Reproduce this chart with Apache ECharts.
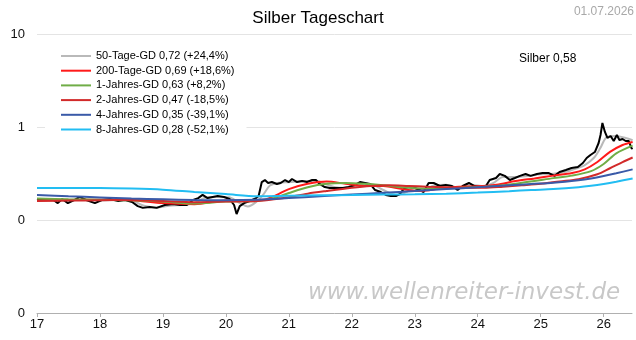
<!DOCTYPE html>
<html>
<head>
<meta charset="utf-8">
<script src="https://cdn.jsdelivr.net/npm/echarts@6/dist/echarts.min.js"></script>
<style>
  html, body { margin: 0; padding: 0; background: #fff; }
  #chart { width: 636px; height: 340px; }
</style>
</head>
<body>
<div id="chart"></div>
<script>
// Silver daily chart: price (log scale) with six moving averages.
// Time is given in decimal years (17 = 2017).

const yearTicks = [17, 18, 19, 20, 21, 22, 23, 24, 25, 26];
const yTickValues = [0.01, 0.1, 1, 10];
const yTickLabels = ['0', '0', '1', '10'];

const priceName = 'Silber';
const priceLast = '0,58';

const priceT = [17.00,17.13,17.24,17.33,17.40,17.49,17.59,17.68,17.78,17.92,18.03,18.16,18.29,18.40,18.51,18.60,18.68,18.79,18.90,19.03,19.16,19.27,19.38,19.48,19.56,19.63,19.71,19.79,19.87,19.97,20.06,20.13,20.17,20.22,20.29,20.38,20.48,20.52,20.57,20.62,20.67,20.73,20.81,20.87,20.94,21.00,21.05,21.13,21.21,21.29,21.37,21.43,21.49,21.57,21.65,21.75,21.86,21.95,22.05,22.13,22.21,22.29,22.37,22.46,22.54,22.62,22.70,22.76,22.84,22.92,23.00,23.08,23.14,23.22,23.30,23.40,23.49,23.59,23.68,23.76,23.86,23.95,24.05,24.13,24.19,24.29,24.35,24.43,24.51,24.59,24.67,24.76,24.84,24.94,25.03,25.13,25.22,25.30,25.40,25.49,25.59,25.67,25.73,25.79,25.86,25.92,25.95,25.98,26.02,26.06,26.11,26.16,26.21,26.25,26.30,26.35,26.40,26.44,26.46];
const priceV = [0.168,0.164,0.168,0.152,0.168,0.152,0.164,0.177,0.164,0.152,0.164,0.168,0.160,0.164,0.156,0.141,0.135,0.138,0.135,0.145,0.149,0.145,0.145,0.164,0.172,0.186,0.172,0.177,0.181,0.177,0.168,0.145,0.116,0.141,0.152,0.160,0.172,0.181,0.256,0.269,0.250,0.256,0.244,0.250,0.269,0.256,0.276,0.256,0.263,0.256,0.269,0.269,0.244,0.226,0.221,0.221,0.221,0.226,0.238,0.256,0.250,0.244,0.210,0.200,0.186,0.181,0.181,0.190,0.221,0.226,0.221,0.210,0.200,0.250,0.250,0.232,0.238,0.232,0.210,0.232,0.250,0.232,0.226,0.232,0.269,0.283,0.312,0.298,0.269,0.283,0.298,0.312,0.298,0.312,0.320,0.320,0.298,0.328,0.345,0.362,0.371,0.410,0.464,0.500,0.538,0.673,0.820,1.104,0.884,0.762,0.800,0.707,0.820,0.725,0.743,0.707,0.707,0.595,0.580];

const ma50T = [17.0,17.25,17.5,17.75,18.0,18.25,18.5,18.7,18.9,19.1,19.35,19.5,19.65,19.85,20.05,20.2,20.35,20.5,20.6,20.7,20.85,21.0,21.25,21.45,21.6,21.8,22.0,22.2,22.35,22.5,22.7,22.85,23.0,23.15,23.3,23.5,23.7,23.9,24.1,24.25,24.4,24.6,24.8,25.0,25.2,25.4,25.55,25.7,25.85,25.95,26.05,26.2,26.35,26.46];
const ma50V = [0.168,0.163,0.162,0.166,0.162,0.165,0.162,0.142,0.136,0.142,0.146,0.152,0.172,0.177,0.176,0.155,0.140,0.160,0.190,0.235,0.252,0.255,0.262,0.262,0.240,0.222,0.226,0.245,0.238,0.210,0.186,0.198,0.220,0.212,0.235,0.240,0.222,0.238,0.232,0.250,0.290,0.290,0.298,0.310,0.315,0.330,0.355,0.390,0.470,0.600,0.780,0.800,0.760,0.720];

const ma200T = [17.0,17.5,18.0,18.5,19.0,19.5,20.0,20.3,20.6,20.8,21.0,21.3,21.6,21.9,22.2,22.5,22.8,23.1,23.4,23.7,24.0,24.3,24.6,24.9,25.2,25.5,25.7,25.9,26.1,26.3,26.46];
const ma200V = [0.162,0.164,0.165,0.163,0.152,0.148,0.162,0.162,0.165,0.185,0.215,0.245,0.260,0.245,0.232,0.232,0.215,0.205,0.218,0.228,0.230,0.240,0.262,0.280,0.300,0.320,0.350,0.420,0.540,0.640,0.690];

const ma1yT = [17.0,17.5,18.0,18.5,19.0,19.5,20.0,20.5,20.8,21.0,21.3,21.6,21.9,22.2,22.5,22.8,23.1,23.4,23.7,24.0,24.3,24.6,24.9,25.2,25.5,25.8,26.0,26.2,26.46];
const ma1yV = [0.170,0.167,0.165,0.163,0.158,0.150,0.158,0.160,0.175,0.195,0.225,0.245,0.250,0.245,0.236,0.225,0.218,0.216,0.222,0.226,0.232,0.245,0.262,0.282,0.300,0.335,0.400,0.520,0.630];

const ma2yT = [17.0,17.5,18.0,18.5,19.0,19.5,20.0,20.5,20.8,21.0,21.3,21.6,22.0,22.3,22.6,22.9,23.2,23.5,23.8,24.1,24.4,24.7,25.0,25.3,25.6,25.9,26.1,26.3,26.46];
const ma2yV = [0.160,0.162,0.163,0.164,0.160,0.155,0.158,0.160,0.168,0.176,0.192,0.205,0.222,0.232,0.236,0.232,0.228,0.225,0.222,0.222,0.228,0.236,0.245,0.260,0.275,0.310,0.360,0.420,0.470];

const ma4yT = [17.0,17.5,18.0,18.5,19.0,19.5,20.0,20.5,21.0,21.5,22.0,22.5,23.0,23.5,24.0,24.5,24.85,25.2,25.6,25.8,26.0,26.2,26.46];
const ma4yV = [0.186,0.180,0.175,0.170,0.167,0.164,0.163,0.165,0.172,0.180,0.188,0.196,0.205,0.215,0.225,0.236,0.244,0.252,0.268,0.280,0.297,0.318,0.350];

const ma8yT = [17.0,17.5,18.0,18.5,19.0,19.5,20.0,20.5,21.0,21.5,22.0,22.5,23.0,23.5,24.0,24.5,24.85,25.2,25.6,25.8,26.0,26.2,26.46];
const ma8yV = [0.221,0.221,0.221,0.218,0.212,0.200,0.190,0.180,0.182,0.184,0.186,0.188,0.189,0.192,0.197,0.204,0.210,0.215,0.225,0.233,0.244,0.258,0.280];

const maNames = [
  '50-Tage-GD 0,72 (+24,4%)',
  '200-Tage-GD 0,69 (+18,6%)',
  '1-Jahres-GD 0,63 (+8,2%)',
  '2-Jahres-GD 0,47 (-18,5%)',
  '4-Jahres-GD 0,35 (-39,1%)',
  '8-Jahres-GD 0,28 (-52,1%)'
];
const maColors = ['#b9b9b9', '#ff1a1a', '#70ad47', '#d22a2a', '#3a5aa8', '#22bdf2'];

const zip = (t, v) => t.map((x, i) => [x, v[i]]);
const maData = [
  zip(ma50T, ma50V), zip(ma200T, ma200V), zip(ma1yT, ma1yV),
  zip(ma2yT, ma2yV), zip(ma4yT, ma4yV), zip(ma8yT, ma8yV)
];

const font = '"Liberation Sans", Arial, sans-serif';

const maSeries = maNames.map((name, i) => ({
  name,
  type: 'line',
  data: maData[i],
  showSymbol: false,
  smooth: 0.3,
  lineStyle: { color: maColors[i], width: 2 },
  itemStyle: { color: maColors[i] },
  z: i === 0 ? 2 : 4,
  silent: true,
  animation: false
}));

const priceSeries = {
  name: priceName,
  type: 'line',
  data: zip(priceT, priceV),
  showSymbol: false,
  lineStyle: { color: '#000', width: 2 },
  itemStyle: { color: '#000' },
  z: 3,
  silent: true,
  animation: false
};

const chart = echarts.init(document.getElementById('chart'), null, { renderer: 'canvas' });
chart.setOption({
  animation: false,
  backgroundColor: '#fff',
  textStyle: { fontFamily: font },
  title: {
    text: 'Silber Tageschart',
    left: 'center',
    top: 5,
    textStyle: { fontFamily: font, fontSize: 17, fontWeight: 'normal', color: '#000' }
  },
  grid: { left: 37, right: 4, top: 34, bottom: 27, containLabel: false },
  legend: {
    data: maNames,
    orient: 'vertical',
    left: 45,
    top: 45,
    padding: [4, 12, 4, 16],
    backgroundColor: '#fff',
    itemGap: 0.7,
    itemWidth: 30,
    itemHeight: 2,
    icon: 'rect',
    selectedMode: false,
    textStyle: { fontFamily: font, fontSize: 11, color: '#000', lineHeight: 14 }
  },
  xAxis: {
    type: 'value',
    min: 17,
    max: 26.45,
    interval: 1,
    axisLine: { show: true, lineStyle: { color: '#b0b0b0', width: 1 } },
    axisTick: { show: true, length: 4, lineStyle: { color: '#b0b0b0' } },
    splitLine: { show: false },
    axisLabel: {
      showMaxLabel: false,
      color: '#111',
      fontSize: 13,
      fontFamily: font,
      margin: 5,
      formatter: v => (yearTicks.includes(Math.round(v)) ? String(Math.round(v)) : '')
    }
  },
  yAxis: {
    type: 'log',
    logBase: 10,
    min: 0.01,
    max: 10,
    axisLine: { show: false },
    axisTick: { show: false },
    splitLine: { show: true, lineStyle: { color: '#e4e4e4', width: 1 } },
    axisLabel: {
      color: '#111',
      fontSize: 13,
      fontFamily: font,
      margin: 12,
      formatter: v => {
        const i = yTickValues.findIndex(t => Math.abs(Math.log10(t) - Math.log10(v)) < 1e-6);
        return i >= 0 ? yTickLabels[i] : '';
      }
    }
  },
  graphic: [
    {
      type: 'text', right: 2, top: 6,
      style: { text: '01.07.2026', fontFamily: font, fontSize: 12, fill: '#a8a8a8' }
    },
    {
      type: 'text', left: 519, top: 53,
      style: { text: priceName + ' ' + priceLast, fontFamily: font, fontSize: 12, fill: '#000' }
    },
    {
      type: 'text', left: 308, top: 282, z: 1,
      style: { text: 'www.wellenreiter-invest.de', fontFamily: '"DejaVu Sans", Verdana, sans-serif', fontSize: 23, fontStyle: 'italic', fill: '#c8c8c8' }
    }
  ],
  series: [maSeries[0], priceSeries].concat(maSeries.slice(1))
});
</script>
</body>
</html>
